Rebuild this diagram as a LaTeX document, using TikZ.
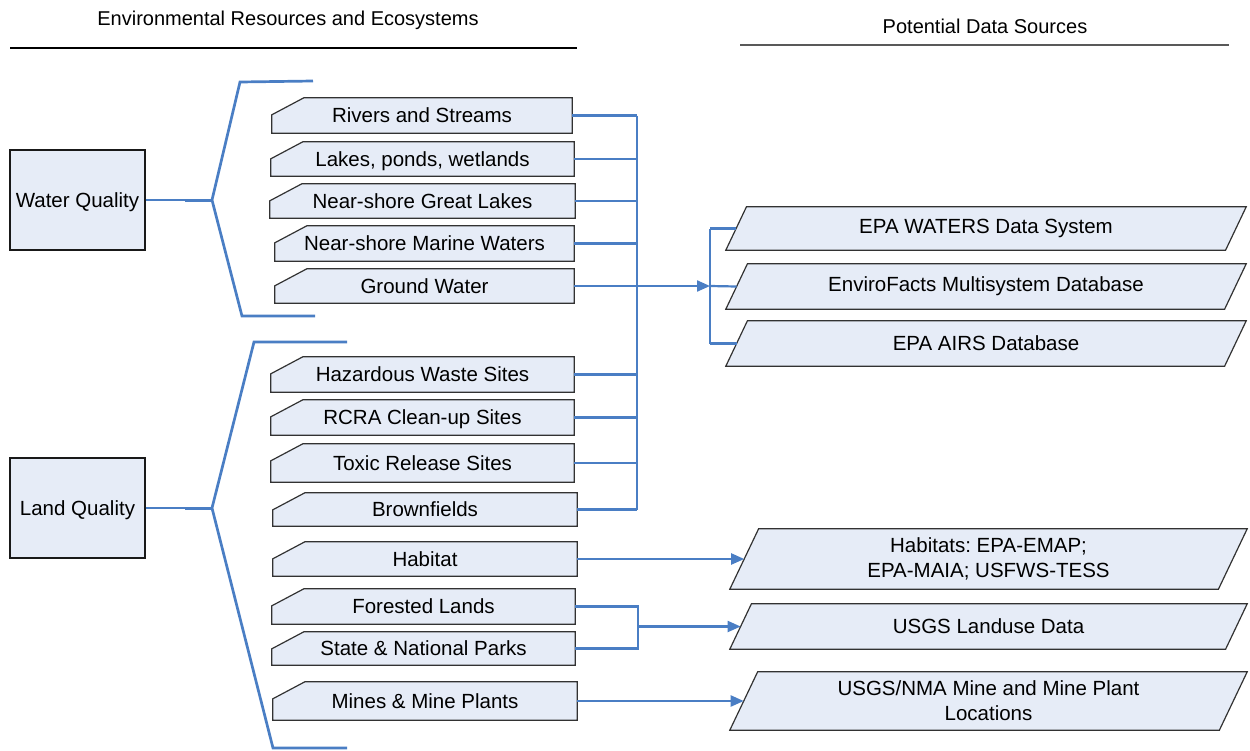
\documentclass[tikz,border=0pt]{standalone}
\usepackage{fontspec}
\setmainfont{Liberation Sans}
\usetikzlibrary{arrows.meta,backgrounds,calc}
\definecolor{fillc}{RGB}{230,236,247}
\definecolor{linec}{RGB}{74,126,196}
\definecolor{edgec}{RGB}{50,50,50}
\frenchspacing
\tikzset{
  txt/.style={inner sep=0pt, font=\fontsize{20.5}{25}\selectfont},
  one/.style={text height=14.7pt, text depth=0pt},
  qbox/.style={txt, one, draw=black!90, line width=1.2pt, fill=fillc},
  cshape/.style={draw=edgec, line width=1.2pt, fill=fillc},
  conn/.style={draw=linec, line width=2.2pt},
  brk/.style={draw=linec, line width=2.7pt, line join=miter},
  arr/.style={conn, -{Triangle[length=13pt,width=11pt]}},
  hdr/.style={inner sep=0pt, font=\fontsize{20}{24}\selectfont, anchor=base},
}
% chamfered box: name, left, right, top, bottom, text
\newcommand\cbx[6]{%
  \node[txt, one, minimum width={#3pt-#2pt}, minimum height={#5pt-#4pt}]
    (#1) at ({(#2+#3)/2},{(#4+#5)/2}) {#6};
  \begin{pgfonlayer}{background}
    \draw[cshape] (#1.south west) -- ([yshift=-17pt]#1.north west)
      -- ([xshift=32pt]#1.north west) -- (#1.north east) -- (#1.south east) -- cycle;
  \end{pgfonlayer}}
% parallelogram: name, left, right, top, bottom, text
\newcommand\pbx[6]{%
  \pgfmathsetmacro\slnt{0.48*(#5-#4)}%
  \node[txt, align=center, minimum width={#3pt-#2pt}, minimum height={#5pt-#4pt}]
    (#1) at ({(#2+#3)/2},{(#4+#5)/2}) {#6};
  \begin{pgfonlayer}{background}
    \draw[cshape] (#1.south west) -- ([xshift=\slnt pt]#1.north west)
      -- (#1.north east) -- ([xshift=-\slnt pt]#1.south east) -- cycle;
  \end{pgfonlayer}
  \coordinate (#1in) at ([xshift=\slnt pt/2]#1.west);}
\begin{document}
\begin{tikzpicture}[x=1pt,y=-1pt]
\useasboundingbox (0,0) rectangle (1250,750);

% headers
\node[hdr] (h1) at (288,25) {Environmental Resources and Ecosystems};
\node[hdr] (h2) at (985,33) {Potential Data Sources};
\draw[black, line width=1.2pt] (10,48) -- (577,48);
\draw[black!65, line width=1.2pt] (740,45) -- (1229,45);

% quality boxes
\node[qbox, minimum width=135pt, minimum height=100pt] (wq) at (77.5,200) {Water Quality};
\node[qbox, minimum width=135pt, minimum height=100pt] (lq) at (77.5,508) {Land Quality};

% resource boxes
\cbx{r1}{272}{572}{98}{133}{Rivers and Streams}
\cbx{r2}{271}{574}{142}{176}{Lakes, ponds, wetlands}
\cbx{r3}{270}{575}{184}{218}{Near-shore Great Lakes}
\cbx{r4}{275}{574}{226}{261}{Near-shore Marine Waters}
\cbx{r5}{275}{574}{269}{303}{Ground Water}
\cbx{l1}{271}{574}{357}{392}{Hazardous Waste Sites}
\cbx{l2}{271}{574}{400}{435}{RCRA Clean-up Sites}
\cbx{l3}{271}{574}{444}{482}{Toxic Release Sites}
\cbx{l4}{273}{577}{493}{526}{Brownfields}
\cbx{l5}{273}{577}{542}{576}{Habitat}
\cbx{l6}{272}{575}{589}{624}{Forested Lands}
\cbx{l7}{272}{575}{632}{665}{State \& National Parks}
\cbx{l8}{273}{577}{682}{720}{Mines \& Mine Plants}

% data sources
\pbx{sa}{726}{1246}{207}{250}{EPA WATERS Data System}
\pbx{sb}{726}{1246}{264}{309}{EnviroFacts Multisystem Database}
\pbx{sc}{726}{1246}{321}{366}{EPA AIRS Database}
\pbx{sh}{730}{1247}{529}{589}{Habitats: EPA-EMAP;\\EPA-MAIA; USFWS-TESS}
\pbx{sl}{730}{1247}{604}{649}{USGS Landuse Data}
\pbx{sm}{730}{1247}{672}{730}{USGS/NMA Mine and Mine Plant\\Locations}

% brackets
\coordinate (wv) at (212,200);
\coordinate (lv) at (212,508);
\draw[conn, line width=1.5pt] (wq.east) -- (wv);
\draw[conn, line width=3pt] ([xshift=-27pt]wv) -- (wv);
\draw[brk] (313,81) -- (240,82) -- (wv) -- (242,316) -- (315,316);
\draw[conn, line width=1.5pt] (lq.east) -- (lv);
\draw[conn, line width=3pt] ([xshift=-27pt]lv) -- (lv);
\draw[brk] (347,342) -- (254,342) -- (lv) -- (273,748) -- (347,748);

% bus to EPA databases
\coordinate (bus) at (637,0);
\foreach \n in {r1,r2,r3,r4,l1,l2,l3,l4}{\draw[conn] (\n.east) -- (\n.east -| bus);}
\draw[conn] (r1.east -| bus) -- (l4.east -| bus);
\coordinate (J) at (710,286);
\draw[arr] (r5.east) -- (J);
\draw[conn] (J |- sain) -- (J |- scin);
\draw[conn] (J |- sain) -- (sain);
\draw[conn] (J) -- (sbin);
\draw[conn] (J |- scin) -- (scin);

% lower connectors
\draw[arr] (l5.east) -- (shin);
\coordinate (fj) at (638,626.5);
\draw[conn] (l6.east) -- (l6.east -| fj) -- (l7.east -| fj) -- (l7.east);
\draw[arr] (fj) -- (slin);
\draw[arr] (l8.east) -- (smin);
\end{tikzpicture}
\end{document}
